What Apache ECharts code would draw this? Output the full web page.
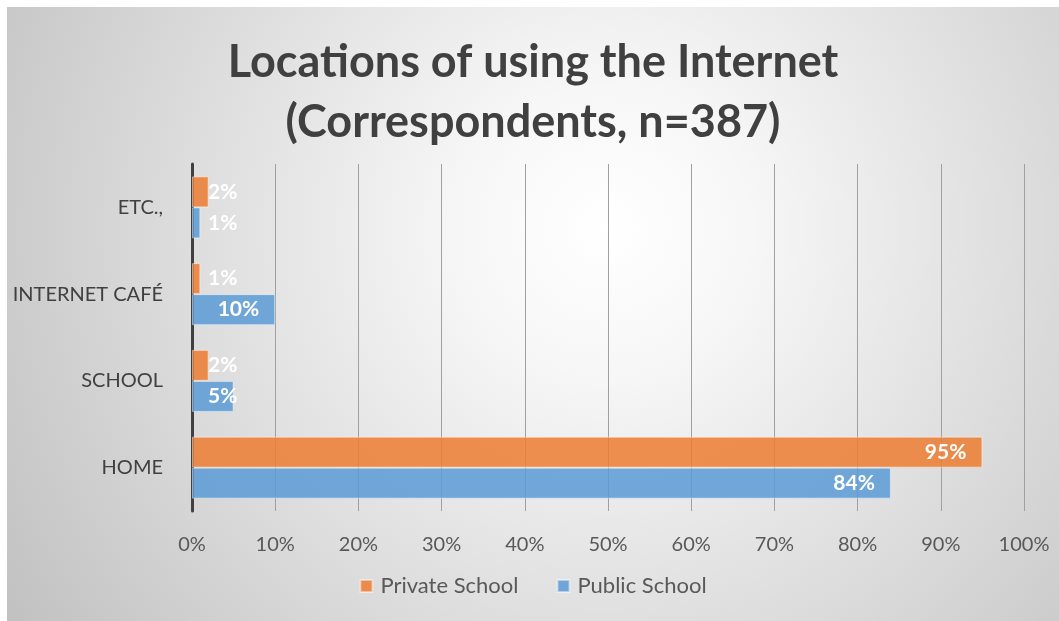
<!DOCTYPE html>
<html>
<head>
<meta charset="utf-8">
<script src="https://cdn.jsdelivr.net/npm/echarts@6/dist/echarts.min.js"></script>
<style>
  html, body { margin: 0; padding: 0; background: #ffffff; }
  #chart { position: absolute; left: 7px; top: 7px; width: 1052px; height: 614px; }
</style>
</head>
<body>
<div id="chart"></div>
<script>
// Survey: where respondents use the Internet (share of respondents, %)
const categories = ['HOME', 'SCHOOL', 'INTERNET CAFÉ', 'ETC.,'];
const privateSchool = [95, 2, 1, 2];
const publicSchool = [84, 5, 10, 1];
const seriesNames = ['Private School', 'Public School'];

const FONT = 'Lato, "Open Sans", sans-serif';

// Short bars cannot hold their label inside, so it is pushed to the start side
function withLabels(values) {
  return values.map(v => ({
    value: v,
    label: { position: v < 8 ? 'insideLeft' : 'insideRight' }
  }));
}

const barLabel = {
  show: true,
  distance: 16,
  color: '#ffffff',
  fontFamily: FONT,
  fontWeight: 'bold',
  fontSize: 21,
  formatter: p => p.value + '%'
};

const chart = echarts.init(document.getElementById('chart'));
chart.setOption({
  backgroundColor: {
    type: 'radial', x: 0.57, y: 0.36, r: 1.15,
    colorStops: [
      { offset: 0, color: '#ffffff' },
      { offset: 0.2, color: '#f7f7f7' },
      { offset: 1, color: '#c2c2c2' }
    ]
  },
  animation: false,
  title: {
    text: 'Locations of using the Internet\n(Correspondents, n=387)',
    left: 'center',
    top: 20,
    textStyle: {
      fontFamily: FONT,
      fontWeight: 'bold',
      fontSize: 45,
      lineHeight: 60,
      color: '#404040'
    }
  },
  legend: {
    data: seriesNames,
    bottom: 19,
    left: 'center',
    icon: 'rect',
    itemWidth: 12,
    itemHeight: 12,
    itemGap: 38,
    textStyle: { fontFamily: FONT, fontSize: 22, color: '#595959', padding: [0, 0, 0, 3] }
  },
  grid: { left: 185, right: 35, top: 157, bottom: 110, containLabel: false, outerBoundsMode: 'none' },
  xAxis: {
    type: 'value',
    min: 0,
    max: 100,
    interval: 10,
    axisLine: { show: false },
    axisTick: { show: false },
    splitLine: { show: true, lineStyle: { color: '#a0a0a0', width: 1 } },
    axisLabel: {
      formatter: '{value}%',
      margin: 24,
      fontFamily: FONT,
      fontSize: 20,
      color: '#595959'
    }
  },
  yAxis: {
    type: 'category',
    data: categories,
    axisLine: { show: true, lineStyle: { color: '#404040', width: 3 } },
    axisTick: { show: false },
    axisLabel: {
      margin: 29,
      fontFamily: FONT,
      fontSize: 20,
      color: '#404040'
    }
  },
  series: [
    {
      name: 'Private School',
      type: 'bar',
      data: withLabels(privateSchool),
      barWidth: 31,
      barGap: '0%',
      itemStyle: { color: 'rgba(237,125,49,0.85)', borderColor: 'rgba(255,255,255,0.45)', borderWidth: 1 },
      label: barLabel
    },
    {
      name: 'Public School',
      type: 'bar',
      data: withLabels(publicSchool),
      barWidth: 31,
      barGap: '0%',
      itemStyle: { color: 'rgba(91,155,213,0.85)', borderColor: 'rgba(255,255,255,0.45)', borderWidth: 1 },
      label: barLabel
    }
  ]
});
</script>
</body>
</html>
